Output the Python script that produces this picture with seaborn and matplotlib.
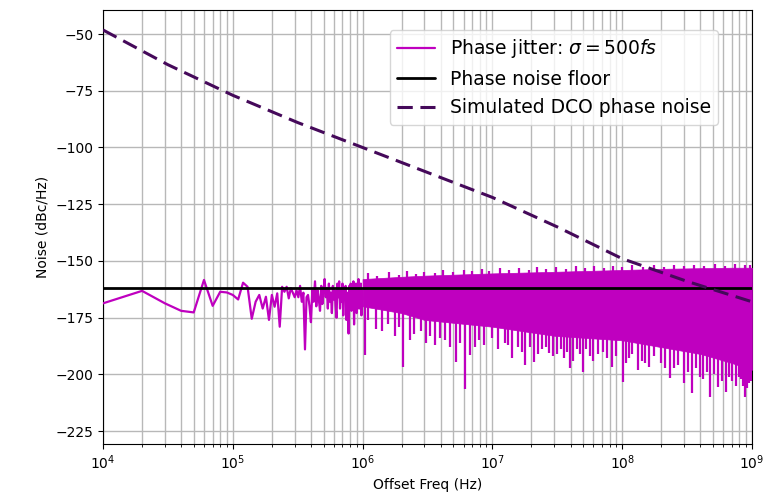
import numpy as np
import pandas as pd
import matplotlib
matplotlib.use("Agg")
import matplotlib.pyplot as plt
import seaborn as sns

# ---------------- data ----------------
bin_step_hz = 1e4  # FFT bin spacing; low bins start at 1e4 Hz

# per-bin phase jitter spectrum, bins 1e4 .. 1e6 Hz (dBc/Hz)
jitter_low_db = [
    -168.7, -163.2, -168.7, -172.0, -172.7, -158.4, -169.8, -163.6, -163.9, -165.0,
    -167.0, -159.6, -161.4, -175.5, -168.0, -165.0, -171.0, -165.8, -176.0, -165.0,
    -170.2, -164.3, -179.0, -161.4, -163.6, -161.4, -166.5, -162.0, -164.0, -166.0,
    -163.0, -166.0, -161.0, -168.0, -164.0, -189.0, -166.0, -165.0, -170.0, -177.0,
    -163.0, -168.0, -159.0, -170.0, -163.0, -167.0, -172.0, -161.0, -169.0, -163.0,
    -158.0, -166.0, -162.0, -171.0, -160.0, -168.0, -164.0, -173.0, -161.0, -167.0,
    -163.0, -170.0, -175.0, -160.0, -166.0, -159.0, -171.0, -163.0, -168.0, -160.0,
    -174.0, -162.0, -167.0, -161.0, -176.0, -164.0, -170.0, -182.0, -161.0, -166.0,
    -160.0, -172.0, -163.0, -169.0, -159.0, -178.0, -162.0, -167.0, -160.0, -173.0,
    -163.0, -168.0, -158.0, -171.0, -162.0, -166.0, -160.0, -174.0, -163.0, -167.0,
]

# dense part of the spectrum (1e6 .. 1e9 Hz): upper envelope and solid-core lower edge
band_freq_hz = [1e6, 2e6, 3e6, 1e7, 3e7, 1e8, 2e8, 4e8, 7e8, 1e9]
band_top_db = [-158.0, -157.0, -156.5, -155.5, -154.8, -154.0, -153.5, -153.2, -153.0, -153.0]
band_core_db = [-170.0, -173.0, -176.0, -179.0, -183.0, -185.0, -188.0, -191.0, -195.0, -198.0]

# downward spikes in the dense part
spike_freq_hz = [
    1.04e6, 1.26e6, 1.58e6, 1.78e6, 2.06e6, 2.51e6, 3.09e6, 3.63e6, 3.98e6, 4.68e6,
    5.25e6, 6.17e6, 6.76e6, 7.94e6, 1.00e7, 1.26e7, 1.41e7, 1.58e7, 1.78e7, 2.09e7,
    2.40e7, 2.75e7, 3.16e7, 3.55e7, 3.98e7, 4.47e7, 5.01e7, 5.62e7, 7.08e7, 8.32e7,
    1.02e8, 1.12e8, 1.32e8, 1.41e8, 1.62e8, 2.00e8, 2.34e8, 2.51e8, 3.02e8, 3.43e8,
    3.98e8, 4.47e8, 4.79e8, 5.50e8, 6.31e8, 7.08e8, 7.94e8, 8.51e8, 8.83e8, 9.55e8,
    1.10e6, 1.40e6, 1.90e6, 2.30e6, 2.80e6, 3.30e6, 4.30e6, 5.60e6, 7.30e6, 8.60e6,
    1.10e7, 1.33e7, 1.68e7, 1.95e7, 2.25e7, 2.60e7, 2.95e7, 3.35e7, 3.75e7, 4.20e7,
    4.75e7, 5.30e7, 6.00e7, 6.50e7, 7.60e7, 9.00e7, 1.07e8, 1.20e8, 1.50e8, 1.75e8,
    2.15e8, 2.70e8, 3.20e8, 3.70e8, 4.20e8, 5.10e8, 5.90e8, 6.70e8, 7.50e8, 8.20e8,
    9.20e8, 9.80e8,
]
spike_db = [
    -191.5, -180.0, -178.0, -183.0, -196.8, -182.0, -186.0, -187.0, -184.0, -188.0,
    -194.4, -206.6, -191.5, -185.0, -184.0, -186.3, -193.0, -188.0, -196.0, -194.4,
    -189.0, -190.7, -191.0, -193.0, -197.4, -189.0, -198.8, -192.0, -190.0, -196.6,
    -203.3, -193.0, -198.0, -194.0, -196.6, -195.0, -201.8, -197.0, -204.0, -208.4,
    -201.0, -199.0, -210.0, -205.5, -207.7, -203.0, -201.0, -205.0, -209.9, -204.0,
    -176.0, -181.0, -179.0, -185.0, -181.0, -183.0, -185.0, -186.0, -188.0, -187.0,
    -189.0, -187.0, -190.0, -188.0, -191.0, -188.0, -192.0, -189.0, -190.0, -194.0,
    -191.0, -189.0, -194.0, -191.0, -193.0, -192.0, -195.0, -191.0, -195.0, -192.0,
    -197.0, -196.0, -199.0, -197.0, -202.0, -200.0, -203.0, -201.0, -205.0, -202.0,
    -206.0, -203.0,
]

# small upward peaks on the top edge of the dense part
peak_freq_hz = [
    1.1e6, 1.3e6, 1.6e6, 1.9e6, 2.2e6, 2.6e6, 3.0e6, 3.6e6, 4.2e6, 5.0e6,
    6.0e6, 7.0e6, 8.3e6, 9.5e6, 1.15e7, 1.35e7, 1.6e7, 1.9e7, 2.2e7, 2.6e7,
    3.1e7, 3.7e7, 4.4e7, 5.2e7, 6.1e7, 7.2e7, 8.5e7, 1.0e8, 1.2e8, 1.45e8,
    1.75e8, 2.1e8, 2.5e8, 3.0e8, 3.6e8, 4.3e8, 5.2e8, 6.2e8, 7.4e8, 8.8e8, 9.7e8,
]
peak_db = [
    -155.5, -156.5, -155.0, -156.0, -154.5, -155.8, -154.8, -155.5, -154.0, -155.0,
    -153.8, -154.5, -153.5, -154.5, -153.2, -154.2, -153.0, -153.8, -152.8, -153.5,
    -152.6, -153.4, -152.4, -153.2, -152.3, -153.0, -152.2, -152.8, -152.0, -152.7,
    -151.8, -152.5, -151.7, -152.3, -151.6, -152.2, -151.5, -152.1, -151.5, -152.0, -151.6,
]

floor_freq_hz = [1e4, 1e9]
floor_db = [-162.0, -162.0]

dco_freq_hz = [1e4, 3.16e4, 1e5, 3.16e5, 1e6, 3.16e6, 1e7, 3.16e7, 1e8, 3.16e8, 1e9]
dco_db = [-48.2, -63.5, -77.0, -89.0, -100.0, -111.0, -122.0, -135.0, -149.0, -159.0, -168.0]

# ---------------- plotting ----------------
sns.set_style("ticks", {"axes.edgecolor": "black", "xtick.color": "black",
                        "ytick.color": "black", "text.color": "black",
                        "axes.labelcolor": "black", "axes.axisbelow": True})
plt.rcParams["font.family"] = ["DejaVu Sans"]

fig = plt.figure(figsize=(7.68, 5.0), dpi=100)
ax = fig.add_axes([0.1341, 0.112, 0.845, 0.868])

jit_color = "m"
low_df = pd.DataFrame({
    "freq": bin_step_hz * np.arange(1, len(jitter_low_db) + 1),
    "db": jitter_low_db,
})
sns.lineplot(data=low_df, x="freq", y="db", ax=ax, color=jit_color, lw=1.6,
             label=r"Phase jitter: $\sigma = 500fs$", zorder=3)
ax.fill_between(band_freq_hz, band_top_db, band_core_db, color=jit_color,
                lw=0.5, edgecolor=jit_color, zorder=3)
log_band = np.log10(band_freq_hz)
spike_base = np.interp(np.log10(spike_freq_hz), log_band, band_core_db)
ax.vlines(spike_freq_hz, spike_base + 1.0, spike_db, color=jit_color, lw=1.6, zorder=3)
peak_base = np.interp(np.log10(peak_freq_hz), log_band, band_top_db)
ax.vlines(peak_freq_hz, peak_base - 1.0, peak_db, color=jit_color, lw=1.6, zorder=3)

floor_df = pd.DataFrame({"freq": floor_freq_hz, "db": floor_db})
sns.lineplot(data=floor_df, x="freq", y="db", ax=ax, color="black", lw=2.0,
             label="Phase noise floor", zorder=4)

dco_df = pd.DataFrame({"freq": dco_freq_hz, "db": dco_db})
sns.lineplot(data=dco_df, x="freq", y="db", ax=ax, color="#45095a", lw=2.2,
             label="Simulated DCO phase noise", zorder=5)
ax.lines[-1].set_dashes((5, 2.5))

ax.set_xscale("log")
ax.set_xlim(1e4, 1e9)
ax.set_ylim(-230.7, -39.4)
ax.set_axisbelow(True)
ax.grid(True, which="both", color="#b8b8b8", lw=1.0)
ax.set_xlabel("Offset Freq (Hz)", fontsize=10)
ax.set_ylabel("Noise (dBc/Hz)", fontsize=10)
ax.tick_params(labelsize=10)

leg = ax.legend(loc="upper right", bbox_to_anchor=(0.948, 0.954), borderaxespad=0,
                fontsize=13.5, frameon=True)
leg_lines = leg.get_lines()
if len(leg_lines) > 2:
    leg_lines[2].set_dashes((5, 2.5))

fig.savefig("out.png", dpi=100)
